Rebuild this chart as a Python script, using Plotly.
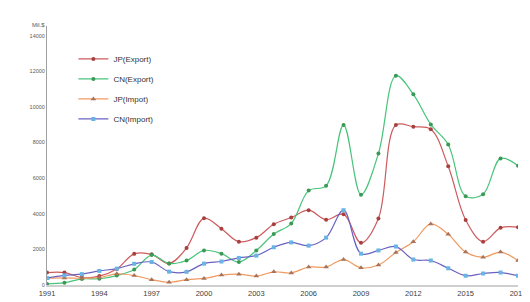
import plotly.graph_objects as go

years = list(range(1991, 2019))
jp_export = [700, 700, 420, 500, 900, 1750, 1720, 1210, 2080, 3750, 3160, 2430, 2660, 3410,
             3790, 4200, 3670, 3980, 2370, 3740, 8980, 8890, 8750, 6670, 3650, 2430, 3210, 3250]
cn_export = [60, 130, 340, 350, 530, 870, 1680, 1210, 1375, 1940, 1760, 1290, 1940, 2860,
             3450, 5300, 5570, 8980, 5070, 7380, 11750, 10710, 9020, 7890, 4980, 5100, 7110, 6700]
jp_import = [380, 400, 380, 420, 630, 530, 300, 150, 300, 370, 555, 610, 500, 740,
             680, 1010, 1010, 1430, 970, 1120, 1830, 2430, 3430, 2850, 1850, 1560, 1850, 1375]
cn_import = [400, 540, 610, 790, 920, 1190, 1290, 750, 740, 1200, 1320, 1520, 1650, 2120,
             2390, 2210, 2660, 4200, 1760, 1940, 2160, 1430, 1375, 940, 520, 645, 700, 520]

series_names = ["JP(Export)", "CN(Export)", "JP(Impot)", "CN(Import)"]
x_ticks = [1991, 1994, 1997, 2000, 2003, 2006, 2009, 2012, 2015, 2018]
y_ticks = [0, 2000, 4000, 6000, 8000, 10000, 12000, 14000]

styles = [
    dict(line="#CC5B5E", marker="#A8403F", symbol="circle", size=4),
    dict(line="#48C47A", marker="#3A9A55", symbol="circle", size=4),
    dict(line="#F09A60", marker="#A8745A", symbol="triangle-up", size=5),
    dict(line="#6A62C0", marker="#68B4E4", symbol="square", size=4),
]

fig = go.Figure()
for i, (name, vals, st) in enumerate(zip(series_names,
                                         [jp_export, cn_export, jp_import, cn_import],
                                         styles)):
    fig.add_trace(go.Scatter(
        x=years, y=vals, name=name, mode="lines+markers",
        line=dict(color=st["line"], width=1.2, shape="spline", smoothing=1.0),
        marker=dict(color=st["marker"], symbol=st["symbol"], size=st["size"]),
        legendgroup=f"g{i}",
    ))

fig.update_layout(
    width=530, height=302,
    margin=dict(l=39, r=13, t=18, b=17),
    paper_bgcolor="white", plot_bgcolor="white",
    font=dict(family="Liberation Sans", color="#404040"),
    showlegend=True,
    legend=dict(x=0.056, y=0.929, xanchor="left", yanchor="top",
                font=dict(size=8, color="#333333"), bgcolor="rgba(0,0,0,0)",
                tracegroupgap=1),
    xaxis=dict(range=[1991, 2018], tickvals=x_ticks, ticktext=[str(t) for t in x_ticks],
               showgrid=False, zeroline=False, showline=True, linecolor="#CFCFCF",
               linewidth=2, ticks="", tickfont=dict(size=7.5, color="#404040")),
    yaxis=dict(range=[0, 14545], tickvals=y_ticks, ticktext=[str(t) for t in y_ticks],
               showgrid=False, zeroline=False, showline=True, linecolor="#A0A0A0",
               linewidth=1, ticks="", tickfont=dict(size=5.5, color="#595959")),
    annotations=[
        dict(text="Mil.$", xref="paper", yref="paper", x=-0.0186, y=1.004,
             xanchor="center", yanchor="middle", showarrow=False,
             font=dict(size=6, color="#595959")),
    ],
)

fig.write_html("out.html")
